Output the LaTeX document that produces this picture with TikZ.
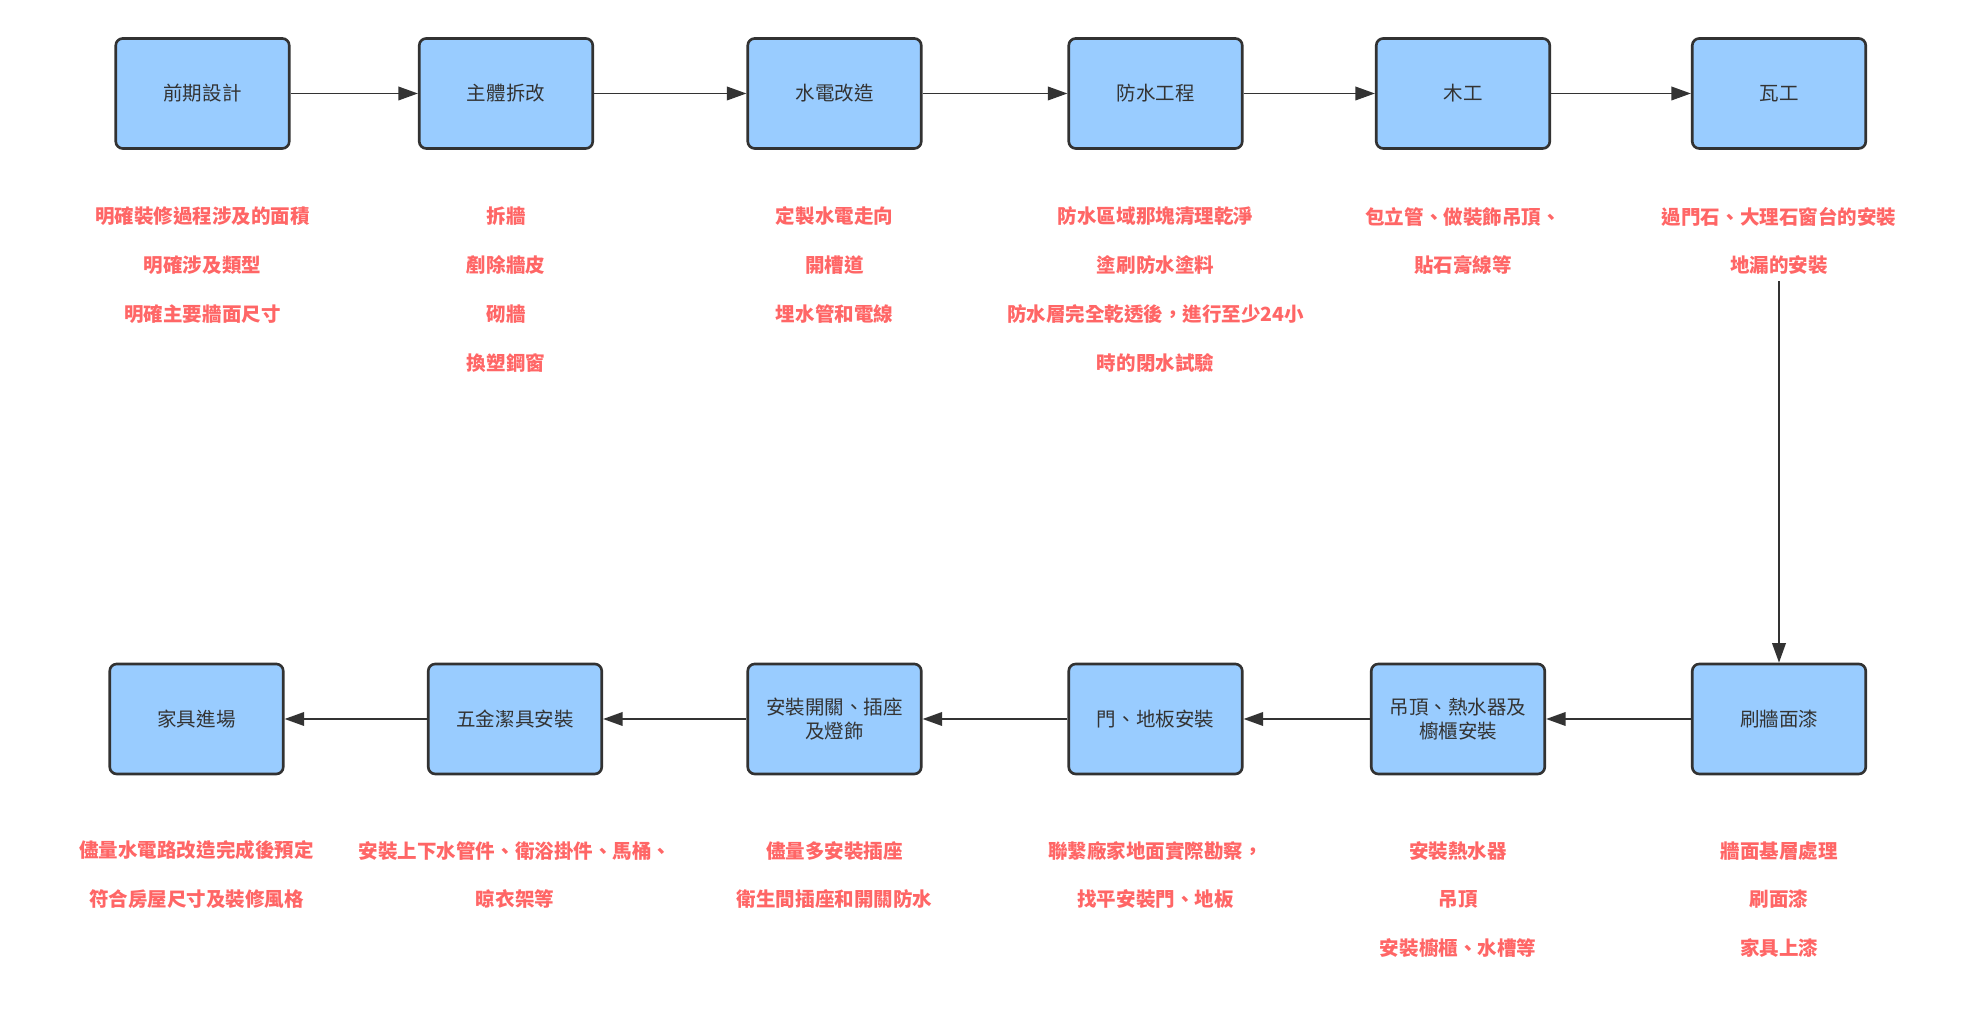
\documentclass[tikz,border=0pt]{standalone}
\usepackage{fontspec}
\setmainfont{Noto Sans CJK TC}
\usetikzlibrary{arrows.meta}
\definecolor{stepfill}{RGB}{153,204,255}
\definecolor{stepline}{RGB}{50,50,50}
\definecolor{steptext}{RGB}{51,51,51}
\definecolor{notered}{RGB}{255,102,102}
\definecolor{flowline}{RGB}{51,51,51}

\begin{document}
\begin{tikzpicture}[x=1cm,y=1cm,line join=round,>={Triangle[length=0.39cm,width=0.27cm]}]
\tikzset{stepbox/.style={draw=stepline,fill=stepfill,line width=1.5pt,rounded corners=0.14cm,minimum width=3.47cm,minimum height=2.2cm,inner sep=0pt,align=center,text=steptext,font=\fontsize{11.1}{13.8}\selectfont},
  note/.style={text=notered,align=center,inner sep=0.12cm,font=\bfseries\fontsize{11.1}{27.8}\selectfont},
  flow/.style={->,draw=flowline,line width=1.1pt}}
\useasboundingbox (0,0) rectangle (39.48,20.18);

\node[stepbox] (s1) at (4.05,18.31) {前期設計};
\node[stepbox] (s2) at (10.12,18.31) {主體拆改};
\node[stepbox] (s3) at (16.69,18.31) {水電改造};
\node[stepbox] (s4) at (23.11,18.31) {防水工程};
\node[stepbox] (s5) at (29.26,18.31) {木工};
\node[stepbox] (s6) at (35.58,18.31) {瓦工};
\node[stepbox] (s7) at (35.58,5.80) {刷牆面漆};
\node[stepbox] (s8) at (29.16,5.80) {吊頂、熱水器及\\櫥櫃安裝};
\node[stepbox] (s9) at (23.11,5.80) {門、地板安裝};
\node[stepbox] (s10) at (16.69,5.80) {安裝開關、插座\\及燈飾};
\node[stepbox] (s11) at (10.30,5.80) {五金潔具安裝};
\node[stepbox] (s12) at (3.93,5.80) {家具進場};

\node[note] (n1) at (4.05,14.88) {明確裝修過程涉及的面積\\明確涉及類型\\明確主要牆面尺寸};
\node[note] (n2) at (10.12,14.39) {拆牆\\剷除牆皮\\砌牆\\換塑鋼窗};
\node[note] (n3) at (16.69,14.88) {定製水電走向\\開槽道\\埋水管和電線};
\node[note] (n4) at (23.11,14.39) {防水區域那塊清理乾淨\\塗刷防水塗料\\防水層完全乾透後，進行至少24小\\時的閉水試驗};
\node[note] (n5) at (29.26,15.36) {包立管、做裝飾吊頂、\\貼石膏線等};
\node[note] (n6) at (35.58,15.36) {過門石、大理石窗台的安裝\\地漏的安裝};
\node[note] (n7) at (35.58,2.19) {牆面基層處理\\刷面漆\\家具上漆};
\node[note] (n8) at (29.16,2.19) {安裝熱水器\\吊頂\\安裝櫥櫃、水槽等};
\node[note] (n9) at (23.11,2.68) {聯繫廠家地面實際勘察，\\找平安裝門、地板};
\node[note] (n10) at (16.69,2.68) {儘量多安裝插座\\衛生間插座和開關防水};
\node[note] (n11) at (10.30,2.68) {安裝上下水管件、衛浴掛件、馬桶、\\晾衣架等};
\node[note] (n12) at (3.93,2.68) {儘量水電路改造完成後預定\\符合房屋尺寸及裝修風格};

\foreach \aa/\bb in {s1/s2,s2/s3,s3/s4,s4/s5,s5/s6,s7/s8,s8/s9,s9/s10,s10/s11,s11/s12} {
  \draw[flow] (\aa) -- (\bb);
}
\draw[flow] (n6) -- (s7);
\end{tikzpicture}
\end{document}
